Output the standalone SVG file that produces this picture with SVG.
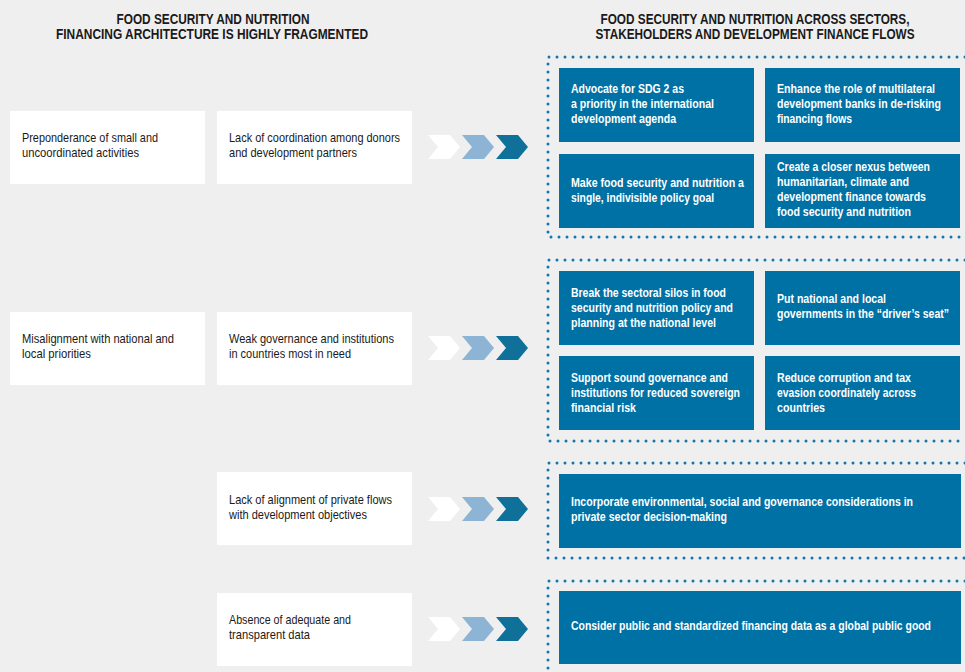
<svg xmlns="http://www.w3.org/2000/svg" width="965" height="672" viewBox="0 0 965 672">
<style>
text{font-family:"Liberation Sans Narrow","Liberation Sans",Arial,sans-serif}
.hd{font-size:15px;font-weight:bold;fill:#1a1a1a;text-anchor:middle}
.lt{font-size:13px;fill:#1a1a1a}
.bt{font-size:13px;font-weight:bold;fill:#fff}
.wb{fill:#fff}
.bb{fill:#0071a5}
.dot{stroke:#1576ad;stroke-width:3;stroke-linecap:round;stroke-dasharray:0 8;fill:none}
.c1{fill:#fff}.c2{fill:#8db4d5}.c3{fill:#0f7199}
</style>
<defs>
<g id="chev">
<polygon class="c1" points="428,-12 450,-12 460,0 450,12 428,12 438,0"/>
<polygon class="c2" points="462,-12 484,-12 494,0 484,12 462,12 472,0"/>
<polygon class="c3" points="496,-12 518,-12 528,0 518,12 496,12 506,0"/>
</g>
</defs>
<rect width="965" height="672" fill="#efefef"/>
<g id="headers">
<text class="hd" x="213" y="24" textLength="193" lengthAdjust="spacingAndGlyphs">FOOD SECURITY AND NUTRITION</text>
<text class="hd" x="212" y="39" textLength="312" lengthAdjust="spacingAndGlyphs">FINANCING ARCHITECTURE IS HIGHLY FRAGMENTED</text>
<text class="hd" x="755" y="24" textLength="309" lengthAdjust="spacingAndGlyphs">FOOD SECURITY AND NUTRITION ACROSS SECTORS,</text>
<text class="hd" x="755" y="39" textLength="319" lengthAdjust="spacingAndGlyphs">STAKEHOLDERS AND DEVELOPMENT FINANCE FLOWS</text>
</g>
<g id="connectors">
<use href="#chev" transform="translate(0,147)"/>
<use href="#chev" transform="translate(0,348)"/>
<use href="#chev" transform="translate(0,509)"/>
<use href="#chev" transform="translate(0,629)"/>
<path class="dot" d="M965,57 H548 V237 H965"/>
<path class="dot" d="M965,260 H548 V441 H965"/>
<path class="dot" d="M965,463 H548 V558 H965"/>
<path class="dot" d="M965,581 H548 V672"/>
</g>
<g id="n-preponderance"><rect class="wb" x="10" y="111" width="195" height="73"/>
<text class="lt" x="22" y="142" textLength="136" lengthAdjust="spacingAndGlyphs">Preponderance of small and</text><text class="lt" x="22" y="157" textLength="117" lengthAdjust="spacingAndGlyphs">uncoordinated activities</text></g>
<g id="n-coordination"><rect class="wb" x="217" y="111" width="195" height="73"/>
<text class="lt" x="229" y="142" textLength="171" lengthAdjust="spacingAndGlyphs">Lack of coordination among donors</text><text class="lt" x="229" y="157" textLength="128" lengthAdjust="spacingAndGlyphs">and development partners</text></g>
<g id="n-misalignment"><rect class="wb" x="10" y="312" width="195" height="73"/>
<text class="lt" x="22" y="343" textLength="152" lengthAdjust="spacingAndGlyphs">Misalignment with national and</text><text class="lt" x="22" y="358" textLength="69" lengthAdjust="spacingAndGlyphs">local priorities</text></g>
<g id="n-governance"><rect class="wb" x="217" y="312" width="195" height="73"/>
<text class="lt" x="229" y="343" textLength="165" lengthAdjust="spacingAndGlyphs">Weak governance and institutions</text><text class="lt" x="229" y="358" textLength="122" lengthAdjust="spacingAndGlyphs">in countries most in need</text></g>
<g id="n-private"><rect class="wb" x="217" y="472" width="195" height="73"/>
<text class="lt" x="229" y="504" textLength="163" lengthAdjust="spacingAndGlyphs">Lack of alignment of private flows</text><text class="lt" x="229" y="519" textLength="138" lengthAdjust="spacingAndGlyphs">with development objectives</text></g>
<g id="n-data"><rect class="wb" x="217" y="593" width="195" height="73"/>
<text class="lt" x="229" y="624" textLength="122" lengthAdjust="spacingAndGlyphs">Absence of adequate and</text><text class="lt" x="229" y="639" textLength="81" lengthAdjust="spacingAndGlyphs">transparent data</text></g>

<g id="n-advocate"><rect class="bb" x="559" y="68" width="195" height="74"/>
<text class="bt" x="571" y="93" textLength="113" lengthAdjust="spacingAndGlyphs">Advocate for SDG 2 as</text><text class="bt" x="571" y="108" textLength="143" lengthAdjust="spacingAndGlyphs">a priority in the international</text><text class="bt" x="571" y="123" textLength="105" lengthAdjust="spacingAndGlyphs">development agenda</text></g>
<g id="n-enhance"><rect class="bb" x="765" y="68" width="195" height="74"/>
<text class="bt" x="777" y="93" textLength="158" lengthAdjust="spacingAndGlyphs">Enhance the role of multilateral</text><text class="bt" x="777" y="108" textLength="164" lengthAdjust="spacingAndGlyphs">development banks in de-risking</text><text class="bt" x="777" y="123" textLength="75" lengthAdjust="spacingAndGlyphs">financing flows</text></g>
<g id="n-make"><rect class="bb" x="559" y="154" width="195" height="74"/>
<text class="bt" x="571" y="187" textLength="173" lengthAdjust="spacingAndGlyphs">Make food security and nutrition a</text><text class="bt" x="571" y="202" textLength="143" lengthAdjust="spacingAndGlyphs">single, indivisible policy goal</text></g>
<g id="n-nexus"><rect class="bb" x="765" y="154" width="195" height="74"/>
<text class="bt" x="777" y="171" textLength="153" lengthAdjust="spacingAndGlyphs">Create a closer nexus between</text><text class="bt" x="777" y="186" textLength="132" lengthAdjust="spacingAndGlyphs">humanitarian, climate and</text><text class="bt" x="777" y="201" textLength="149" lengthAdjust="spacingAndGlyphs">development finance towards</text><text class="bt" x="777" y="216" textLength="134" lengthAdjust="spacingAndGlyphs">food security and nutrition</text></g>

<g id="n-silos"><rect class="bb" x="559" y="271" width="195" height="74"/>
<text class="bt" x="571" y="297" textLength="155" lengthAdjust="spacingAndGlyphs">Break the sectoral silos in food</text><text class="bt" x="571" y="312" textLength="162" lengthAdjust="spacingAndGlyphs">security and nutrition policy and</text><text class="bt" x="571" y="327" textLength="145" lengthAdjust="spacingAndGlyphs">planning at the national level</text></g>
<g id="n-drivers"><rect class="bb" x="765" y="271" width="195" height="74"/>
<text class="bt" x="777" y="303" textLength="109" lengthAdjust="spacingAndGlyphs">Put national and local</text><text class="bt" x="777" y="318" textLength="172" lengthAdjust="spacingAndGlyphs">governments in the “driver’s seat”</text></g>
<g id="n-support"><rect class="bb" x="559" y="356" width="195" height="74"/>
<text class="bt" x="571" y="382" textLength="157" lengthAdjust="spacingAndGlyphs">Support sound governance and</text><text class="bt" x="571" y="397" textLength="169" lengthAdjust="spacingAndGlyphs">institutions for reduced sovereign</text><text class="bt" x="571" y="412" textLength="65" lengthAdjust="spacingAndGlyphs">financial risk</text></g>
<g id="n-corruption"><rect class="bb" x="765" y="356" width="195" height="74"/>
<text class="bt" x="777" y="382" textLength="134" lengthAdjust="spacingAndGlyphs">Reduce corruption and tax</text><text class="bt" x="777" y="397" textLength="139" lengthAdjust="spacingAndGlyphs">evasion coordinately across</text><text class="bt" x="777" y="412" textLength="48" lengthAdjust="spacingAndGlyphs">countries</text></g>

<g id="n-esg"><rect class="bb" x="559" y="474" width="402" height="74"/>
<text class="bt" x="571" y="506" textLength="342" lengthAdjust="spacingAndGlyphs">Incorporate environmental, social and governance considerations in</text><text class="bt" x="571" y="521" textLength="156" lengthAdjust="spacingAndGlyphs">private sector decision-making</text></g>
<g id="n-publicgood"><rect class="bb" x="559" y="591" width="402" height="73"/>
<text class="bt" x="571" y="630" textLength="360" lengthAdjust="spacingAndGlyphs">Consider public and standardized financing data as a global public good</text></g>
</svg>
